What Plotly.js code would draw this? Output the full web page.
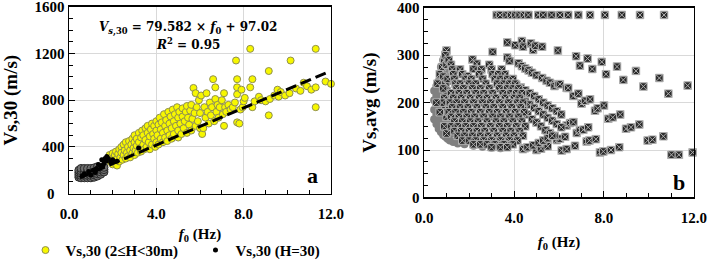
<!DOCTYPE html>
<html><head><meta charset="utf-8">
<script src="https://cdn.plot.ly/plotly-3.0.1.min.js"></script>
<style>html,body{margin:0;padding:0;background:#fff}#c{width:708px;height:267px}</style>
</head><body><div id="c"></div>
<script>
// ---------- Panel a data (f0 in Hz, Vs,30 in m/s) ----------
const yellowPts = [
[1.8,300],[1.85,330],[1.9,270],[1.95,310],[2.0,250],[2.0,345],[2.05,290],[2.1,330],[2.1,260],[2.15,360],[2.2,300],[2.2,240],[2.25,340],[2.3,380],[2.3,275],
[2.35,310],[2.4,400],[2.4,350],[2.45,290],[2.5,330],[2.5,420],[2.55,370],[2.6,300],[2.6,440],[2.65,350],[2.7,400],[2.7,320],[2.75,450],[2.8,370],[2.8,310],[2.85,420],[2.9,470],[2.9,345],[2.95,390],[3.0,330],[3.0,440],[3.0,500],
[3.05,370],[3.1,470],[3.1,410],[3.15,350],[3.2,520],[3.2,440],[3.25,390],[3.3,480],[3.3,360],[3.35,540],[3.4,420],[3.4,500],[3.45,380],[3.5,560],[3.5,460],[3.55,400],[3.6,520],[3.6,580],[3.65,440],[3.7,380],[3.7,490],[3.75,550],[3.8,600],[3.8,420],[3.85,510],[3.9,470],[3.9,580],[3.95,400],[4.0,540],[4.0,620],[4.0,440],
[4.05,500],[4.1,590],[4.1,420],[4.15,650],[4.2,470],[4.2,550],[4.25,610],[4.3,440],[4.3,520],[4.35,680],[4.4,580],[4.4,480],[4.45,630],[4.5,450],[4.5,540],[4.55,700],[4.6,600],[4.6,500],[4.65,660],[4.7,470],[4.7,560],[4.75,720],[4.8,620],[4.8,510],[4.85,680],[4.9,580],[4.95,740],[5.0,540],[5.0,650],[5.0,480],
[5.05,700],[5.1,600],[5.15,510],[5.2,730],[5.2,660],[5.25,560],[5.3,620],[5.35,700],[5.4,520],[5.4,750],[5.45,650],[5.5,590],[5.55,710],[5.6,540],[5.6,760],[5.65,640],[5.7,905],[5.75,690],[5.8,580],[5.8,860],[5.85,740],[5.9,620],[5.95,800],[6.0,560],[6.0,690],[6.05,840],
[6.1,510],[6.15,560],[6.2,740],[6.25,650],[6.3,860],[6.35,700],[6.4,600],[6.45,780],[6.5,670],[6.55,740],[6.6,980],[6.65,620],[6.7,910],[6.7,810],[6.75,700],[6.8,760],[6.85,650],[6.9,740],[7.0,800],[7.05,680],[7.1,860],[7.1,580],[7.15,740],
[7.2,700],[7.3,760],[7.4,720],[7.5,740],[7.6,780],[7.65,1140],[7.7,980],[7.7,910],[7.7,850],[7.7,610],[7.8,600],[7.85,720],[7.9,890],[7.95,740],[8.0,790],[8.05,820],
[8.3,1240],[8.3,910],[8.4,980],[8.4,740],[8.5,790],[8.7,830],[8.8,800],[9.0,790],[9.15,1050],[9.15,670],[9.2,810],[9.4,840],[9.55,890],[9.6,830],[9.7,870],[9.9,840],[10.1,860],[10.15,1140],[10.4,900],[10.6,880],[10.75,950],[10.9,920],[11.1,890],[11.3,1240],[11.3,910],[11.3,740],[11.75,960],[12.0,940]
];
const blackDensePts = [
[0.45,140],[0.45,160],[0.45,180],[0.45,200],
[0.55,135],[0.55,155],[0.55,175],[0.55,195],[0.55,215],
[0.7,135],[0.7,155],[0.7,175],[0.7,195],[0.7,215],
[0.85,135],[0.85,155],[0.85,175],[0.85,195],[0.85,215],
[1.0,135],[1.0,155],[1.0,175],[1.0,195],[1.0,215],
[1.15,140],[1.15,160],[1.15,180],[1.15,200],[1.15,220],
[1.3,150],[1.3,170],[1.3,190],[1.3,210],[1.3,230],
[1.45,165],[1.45,185],[1.45,205],[1.45,225],
[1.6,185],[1.6,205],[1.6,225]
];
const blackPts = [
[1.35,249],[1.5,290],[1.73,318],[2.0,290],[3.19,390],[2.19,276],[1.6,260],[1.7,280],[1.8,300],[1.45,230],
[1.25,215],[1.1,200],[0.9,190],[0.7,170],[1.55,240],[1.9,270],[1.65,300],[0.6,150],[1.0,160],[1.2,180]
];
const trendF = [0.5, 11.8];
const trendV = [137, 1036];

// ---------- Panel b data (f0 in Hz, Vs,avg in m/s) ----------
const bDensePts = [
[0.45,165],[0.45,185],[0.45,205],[0.45,225],
[0.55,155],[0.55,175],[0.55,195],[0.55,215],[0.55,235],
[0.65,145],[0.65,165],[0.65,185],[0.65,205],[0.65,225],[0.65,245],
[0.75,138],[0.75,158],[0.75,178],[0.75,198],[0.75,218],[0.75,238],[0.75,258],[0.75,275],
[0.85,132],[0.85,152],[0.85,172],[0.85,192],[0.85,212],[0.85,232],[0.85,252],[0.85,272],[0.85,290],
[0.95,128],[0.95,148],[0.95,168],[0.95,188],[0.95,208],[0.95,228],[0.95,248],[0.95,268],[0.95,288],[0.95,305],
[1.05,124],[1.05,144],[1.05,164],[1.05,184],[1.05,204],[1.05,224],[1.05,244],[1.05,264],
[1.15,120],[1.15,140],[1.15,160],[1.15,180],[1.15,200],[1.15,220],
[1.3,117],[1.3,135],[1.3,155],[1.5,114],[1.5,130],[1.8,112],[1.8,122],[2.2,109],[2.6,107],[3.0,105],[3.4,104]
];
const bTopF = [3.23,3.38,3.67,3.87,4.06,4.25,4.44,4.64,5.08,5.30,5.67,6.04,6.41,6.86,7.38,8.04,8.79,9.6,10.67];
const bTopV = [385,385,385,385,385,385,385,385,385,385,385,385,385,385,385,385,385,385,385];
const bPts = [
// squares over the dense core
[0.8,275],[0.9,290],[1.0,310],[0.95,300],[0.7,260],[1.0,280],[0.85,255],[0.95,240],[1.0,225],[0.9,210],
[0.95,190],[1.0,170],[0.9,150],[1.0,135],[0.8,200],[0.7,180],[0.6,240],[0.55,200],[1.05,250],[0.85,230],
// upper family
[3.7,327],[4.05,321],[4.35,330],[4.4,318],[4.75,325],[4.85,311],[4.95,320],[5.25,318],[3.05,307],[5.95,310],
[6.76,298],[7.27,293],[6.93,278],[7.48,271],[7.9,286],[8.09,260],[8.58,276],[8.86,248],[9.42,267],[9.75,234],[10.46,252],[10.86,219],[11.72,236],
// second family
[3.7,295],[3.8,288],[4.2,283],[4.35,277],[4.5,272],[4.65,268],[4.8,263],[5.0,258],[5.25,252],[5.45,246],[5.6,242],[5.8,235],[5.97,239],[6.04,239],[6.34,231],[6.41,231],
[6.64,214],[6.86,219],[7.0,198],[7.16,204],[7.38,207],[7.6,183],[7.72,188],[8.0,194],[8.19,166],[8.39,169],[8.72,175],[8.98,145],[9.2,148],[9.57,154],[9.94,120],[10.15,122],[10.64,129],[11.0,90],[11.33,90],[11.94,95],
// third family
[3.9,245],[4.1,238],[4.3,232],[4.5,226],[4.7,220],[4.9,214],[5.1,207],[5.3,200],[5.5,194],[5.7,188],[5.9,182],[6.1,175],[6.34,152],[6.49,157],[6.64,159],[6.79,136],[6.93,142],[7.08,143],[7.3,148],
[7.23,118],[7.35,120],[7.64,123],[7.82,95],[7.97,97],[8.31,100],[8.68,106],
// fourth family
[4.3,210],[4.5,203],[4.7,196],[4.9,189],[5.1,182],[5.3,175],[5.5,168],[5.7,162],[5.9,155],[6.1,148],[5.9,121],[6.04,124],[6.27,128],[6.12,99],[6.34,102],[6.71,109],
// fifth family
[4.4,190],[4.6,175],[4.8,165],[5.0,158],[5.2,150],[5.4,142],[5.6,136],[5.8,130],[5.0,100],[5.2,103],[5.5,108],[4.5,104],[4.4,102],[4.6,106],[4.85,110],[5.1,115],[5.3,120],[5.5,125],[5.7,130],
// dense grid
[1.1,290],[2.15,291],[1.2,280],[2.35,282],[2.9,280],
[1.25,270],[1.6,270],[2.2,271],[2.55,270],[3.0,270],[3.45,270],
[1.3,260],[1.7,260],[1.95,256],[2.45,260],[3.05,260],[3.3,260],[3.6,260],
[1.35,250],[1.85,250],[2.1,250],[2.6,250],[3.15,250],[3.4,250],[3.7,250],[3.95,250],
[1.4,240],[1.6,240],[2.0,240],[2.3,240],[2.75,240],[3.25,240],[3.55,240],[3.8,240],[4.05,240],
[1.45,230],[1.75,230],[2.15,230],[2.5,230],[2.9,230],[3.35,230],[3.7,230],[3.95,230],[4.2,230],
[1.2,220],[1.55,220],[1.9,220],[2.3,220],[2.65,220],[3.05,220],[3.5,220],[3.85,220],[4.1,220],[4.35,220],
[1.3,210],[1.65,210],[2.05,210],[2.45,210],[2.8,210],[3.2,210],[3.6,210],[4.0,210],[4.25,210],
[1.15,200],[1.45,200],[1.8,200],[2.2,200],[2.6,200],[2.95,200],[3.35,200],[3.75,200],[4.15,200],[4.4,200],
[1.25,190],[1.6,190],[1.95,190],[2.35,190],[2.75,190],[3.1,190],[3.5,190],[3.9,190],[4.3,190],
[1.1,180],[1.4,180],[1.75,180],[2.1,180],[2.5,180],[2.9,180],[3.25,180],[3.65,180],[4.05,180],[4.45,180],
[1.2,170],[1.55,170],[1.9,170],[2.25,170],[2.65,170],[3.05,170],[3.4,170],[3.8,170],[4.2,170],
[1.35,160],[1.7,160],[2.05,160],[2.4,160],[2.8,160],[3.2,160],[3.55,160],[3.95,160],[4.35,160],
[1.2,150],[1.5,150],[1.85,150],[2.2,150],[2.55,150],[2.95,150],[3.35,150],[3.7,150],[4.1,150],[4.5,150],
[1.35,140],[1.65,140],[2.0,140],[2.35,140],[2.7,140],[3.1,140],[3.5,140],[3.85,140],[4.25,140],
[1.5,130],[1.8,130],[2.15,130],[2.5,130],[2.85,130],[3.25,130],[3.65,130],[4.0,130],[4.4,130],
[1.7,120],[2.0,120],[2.3,120],[2.65,120],[3.0,120],[3.4,120],[3.8,120],[4.15,120],
[2.2,112],[2.5,112],[2.8,112],[3.15,112],[3.55,112],[3.95,112],[3.0,106],[3.4,106],[3.7,106]
];

const xTickVals = [0, 4, 8, 12];
const xTickText = ['0.0', '4.0', '8.0', '12.0'];
const aYTickVals = [400, 800, 1200, 1600];
const aYTickText = ['400', '800', '1200', '1600'];
const aYZeroLabel = '0';
const bYTickVals = [0, 100, 200, 300, 400];
const bYTickText = ['0', '100', '200', '300', '400'];

// ---------- helpers ----------
const col = (pts, i) => pts.map(p => p[i]);
const SERIF = 'Liberation Serif, Times New Roman, serif';
const boldFont = (s) => ({family: SERIF, size: s, color: '#000', weight: 700});
const sqMarker = {symbol:'square-x', color:'#2b2b2b', size:7.5, line:{color:'#b0b0b0', width:1}};

const traces = [
  {x: col(yellowPts,0), y: col(yellowPts,1), type:'scatter', mode:'markers', name:'Vs,30 (2≤H<30m)',
   xaxis:'x', yaxis:'y', cliponaxis:false,
   marker:{color:'#f7f700', size:7, line:{color:'#8f8f50', width:1}}},
  {x: col(blackDensePts,0), y: col(blackDensePts,1), type:'scatter', mode:'markers', showlegend:false,
   xaxis:'x', yaxis:'y', hoverinfo:'skip',
   marker:{color:'#6e6e6e', size:8, line:{color:'#2a2a2a', width:1}}},
  {x: col(blackPts,0), y: col(blackPts,1), type:'scatter', mode:'markers', name:'Vs,30 (H=30)',
   xaxis:'x', yaxis:'y',
   marker:{color:'#000', size:5}},
  {x: trendF, y: trendV, type:'scatter', mode:'lines', showlegend:false, xaxis:'x', yaxis:'y',
   line:{color:'#000', width:3, dash:'11px,5px'}},
  {x: col(bDensePts,0), y: col(bDensePts,1), type:'scatter', mode:'markers', showlegend:false,
   xaxis:'x2', yaxis:'y2', hoverinfo:'skip',
   marker:{color:'#808080', size:8, line:{width:0}}},
  {x: col(bPts,0), y: col(bPts,1), type:'scatter', mode:'markers', showlegend:false,
   xaxis:'x2', yaxis:'y2', cliponaxis:false, marker:sqMarker},
  {x: bTopF, y: bTopV, type:'scatter', mode:'markers', showlegend:false,
   xaxis:'x2', yaxis:'y2', cliponaxis:false, marker:sqMarker}
];

const axisCommon = {
  showline:true, linecolor:'#000', linewidth:1.5, mirror:true,
  showgrid:true, gridcolor:'#d9d9d9', gridwidth:1, zeroline:false,
  ticks:'inside', ticklen:6, tickcolor:'#000', tickwidth:1,
  tickfont: boldFont(15), tickmode:'array', ticklabeloverflow:'allow'
};
const xCommon = Object.assign({}, axisCommon, {
  range:[0,12], tickvals:xTickVals, ticktext:xTickText, ticklabelstandoff:6,
  minor:{tickvals:[1,2,3,5,6,7,9,10,11], ticks:'inside', ticklen:4, tickcolor:'#000', showgrid:false}
});

const layout = {
  width:708, height:267, margin:{l:0, r:0, t:0, b:0},
  paper_bgcolor:'#fff', plot_bgcolor:'#fff', showlegend:true,
  font:{family:SERIF, color:'#000'},
  xaxis: Object.assign({}, xCommon, {domain:[0.0975,0.4675], anchor:'y',
    title:{text:'<i>f</i><sub>0</sub> (Hz)', font:boldFont(15), standoff:7}}),
  yaxis: Object.assign({}, axisCommon, {domain:[0.2584,0.9738], anchor:'x', range:[0,1600],
    tickvals:aYTickVals, ticktext:aYTickText,
    minor:{dtick:100, ticks:'inside', ticklen:4, tickcolor:'#000', showgrid:false},
    title:{text:'Vs,30 (m/s)', font:boldFont(19), standoff:15}}),
  xaxis2: Object.assign({}, xCommon, {domain:[0.5989,0.9802], anchor:'y2',
    title:{text:'<i>f</i><sub>0</sub> (Hz)', font:boldFont(15), standoff:11}}),
  yaxis2: Object.assign({}, axisCommon, {domain:[0.2434,0.9700], anchor:'x2', range:[0,400],
    tickvals:bYTickVals, ticktext:bYTickText,
    minor:{dtick:25, ticks:'inside', ticklen:4, tickcolor:'#000', showgrid:false},
    title:{text:'Vs,avg (m/s)', font:boldFont(19), standoff:15}}),
  legend:{orientation:'h', x:0.036, xanchor:'left', y:0.041, yanchor:'middle',
    font:boldFont(15), bgcolor:'rgba(0,0,0,0)', itemsizing:'trace',
    entrywidth:125, entrywidthmode:'pixels', tracegroupgap:0},
  annotations:[
    {xref:'paper', yref:'y', x:0.0805, y:0, showarrow:false, xanchor:'right', yanchor:'middle',
     text:aYZeroLabel, font:boldFont(15)},
    {xref:'paper', yref:'paper', x:0.2655, y:0.893, showarrow:false, xanchor:'center', yanchor:'middle',
     text:'<i>V</i><sub><i>s</i>,30</sub> = 79.582 × <i>f</i><sub>0</sub> + 97.02', font:{family:'DejaVu Serif', size:12, weight:700, color:'#000'}},
    {xref:'paper', yref:'paper', x:0.2655, y:0.833, showarrow:false, xanchor:'center', yanchor:'middle',
     text:'<i>R</i><sup>2</sup> = 0.95', font:{family:'DejaVu Serif', size:12, weight:700, color:'#000'}},
    {xref:'paper', yref:'paper', x:0.442, y:0.326, showarrow:false, xanchor:'center', yanchor:'middle',
     text:'a', font:boldFont(22)},
    {xref:'paper', yref:'paper', x:0.959, y:0.2996, showarrow:false, xanchor:'center', yanchor:'middle',
     text:'b', font:boldFont(22)}
  ]
};

Plotly.newPlot('c', traces, layout, {displayModeBar:false, staticPlot:true});
</script>
</body></html>
